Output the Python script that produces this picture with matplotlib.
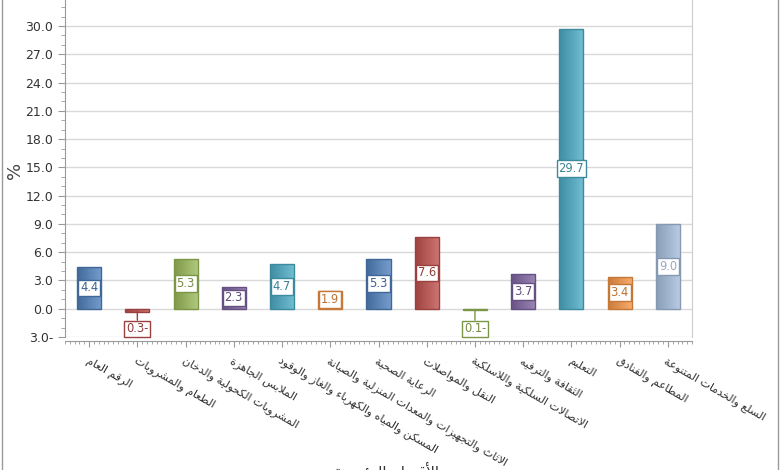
import matplotlib
matplotlib.use("Agg")
import matplotlib.pyplot as plt
import numpy as np
from matplotlib.colors import to_rgb
from matplotlib.lines import Line2D
from matplotlib.ticker import MultipleLocator, FuncFormatter

# --- data ---
categories = [
    "الرقم العام",
    "الطعام والمشروبات",
    "المشروبات الكحولية والدخان",
    "الملابس الجاهزة",
    "المسكن والمياه والكهرباء والغاز والوقود",
    "الاثاث والتجهيزات والمعدات المنزلية والصيانة",
    "الرعاية الصحية",
    "النقل والمواصلات",
    "الاتصالات السلكية واللاسلكية",
    "الثقافة والترفيه",
    "التعليم",
    "المطاعم والفنادق",
    "السلع والخدمات المتنوعة",
]
values = [4.4, -0.3, 5.3, 2.3, 4.7, 1.9, 5.3, 7.6, -0.1, 3.7, 29.7, 3.4, 9.0]
bar_colors = ["#4f81bd", "#c0504d", "#9bbb59", "#8064a2", "#4bacc6", "#f79646",
              "#4f81bd", "#c0504d", "#9bbb59", "#8064a2", "#4bacc6", "#f79646",
              "#a7bfde"]
y_title = "%"
x_title = "الأقسام الرئيسية"

# --- minimal arabic shaping (matplotlib has no bidi / joining support) ---
RIGHT = {'آ': 0xFE81, 'أ': 0xFE83, 'ؤ': 0xFE85, 'إ': 0xFE87, 'ا': 0xFE8D,
         'ة': 0xFE93, 'د': 0xFEA9, 'ذ': 0xFEAB, 'ر': 0xFEAD, 'ز': 0xFEAF,
         'و': 0xFEED, 'ى': 0xFEEF}
DUAL = {'ئ': 0xFE89, 'ب': 0xFE8F, 'ت': 0xFE95, 'ث': 0xFE99, 'ج': 0xFE9D,
        'ح': 0xFEA1, 'خ': 0xFEA5, 'س': 0xFEB1, 'ش': 0xFEB5, 'ص': 0xFEB9,
        'ض': 0xFEBD, 'ط': 0xFEC1, 'ظ': 0xFEC5, 'ع': 0xFEC9, 'غ': 0xFECD,
        'ف': 0xFED1, 'ق': 0xFED5, 'ك': 0xFED9, 'ل': 0xFEDD, 'م': 0xFEE1,
        'ن': 0xFEE5, 'ه': 0xFEE9, 'ي': 0xFEF1}
LAM_ALEF = {'آ': 0xFEF5, 'أ': 0xFEF7, 'إ': 0xFEF9, 'ا': 0xFEFB}


def shape(s):
    toks = []
    i = 0
    while i < len(s):
        c = s[i]
        if c == 'ل' and i + 1 < len(s) and s[i + 1] in LAM_ALEF:
            toks.append(('R', LAM_ALEF[s[i + 1]]))
            i += 2
            continue
        if c in DUAL:
            toks.append(('D', DUAL[c]))
        elif c in RIGHT:
            toks.append(('R', RIGHT[c]))
        elif c == 'ء':
            toks.append(('N', 0xFE80))
        else:
            toks.append(('X', c))
        i += 1
    out = []
    for j, (k, b) in enumerate(toks):
        if k == 'X':
            out.append(b)
            continue
        if k == 'N':
            out.append(chr(b))
            continue
        jp = j > 0 and toks[j - 1][0] == 'D'
        jn = k == 'D' and j + 1 < len(toks) and toks[j + 1][0] in ('D', 'R')
        if k == 'R':
            off = 1 if jp else 0
        else:
            off = 3 if (jp and jn) else 2 if jn else 1 if jp else 0
        out.append(chr(b + off))
    return ''.join(out[::-1])


def shade(c, f):
    r = np.array(to_rgb(c))
    return tuple(r * f) if f < 1 else tuple(r + (1 - r) * (f - 1))


plt.rcParams["font.family"] = ["DejaVu Sans"]

fig = plt.figure(figsize=(7.8, 4.7), dpi=100)
ax = fig.add_axes([65 / 780, (470 - 337) / 470, (692 - 65) / 780, 337 / 470])

x = np.arange(len(values))
w = 0.5
bars = ax.bar(x, values, width=w, facecolor="none", zorder=3, linewidth=1)

grad = np.linspace(0, 1, 64)
for xi, v, c, b in zip(x, values, bar_colors, bars):
    edge = shade(c, 0.8)
    b.set_edgecolor(edge)
    dark = np.array(shade(c, 0.82))
    light = np.array(shade(c, 1.22))
    img = dark[None, None, :] * (1 - grad[None, :, None]) + light[None, None, :] * grad[None, :, None]
    im = ax.imshow(img, extent=(xi - w / 2, xi + w / 2, min(0, v), max(0, v)),
                   aspect="auto", zorder=2, interpolation="bilinear")
    im.set_clip_path(b)

    txt = f"{abs(v):.1f}" + ("-" if v < 0 else "")
    tcol = shade(c, 0.75) if c != "#a7bfde" else "#98a8bf"
    box = dict(boxstyle="square,pad=0.16", facecolor="white", edgecolor=edge, linewidth=1)
    if v >= 0:
        ax.text(xi, v / 2, txt, ha="center", va="center", fontsize=8.3,
                color=tcol, bbox=box, zorder=5)
    else:
        ax.annotate(txt, xy=(xi, v), xytext=(xi, -2.15), ha="center", va="center",
                    fontsize=8.3, color=tcol, bbox=box, zorder=5,
                    arrowprops=dict(arrowstyle="-", color=edge, lw=1,
                                    shrinkA=0, shrinkB=0))

ax.set_xlim(-0.5, len(values) - 0.5)
ax.set_ylim(-3, 32.76)

ax.grid(axis="y", color="#d9d9d9", linewidth=1)
ax.set_axisbelow(True)
ax.spines["top"].set_visible(False)
ax.spines["right"].set_color("#cccccc")
ax.spines["left"].set_color("#999999")
ax.spines["bottom"].set_color("#999999")
ax.spines["bottom"].set_position(("outward", 3))

ax.tick_params(axis="y", which="major", length=5, color="#999999",
               labelsize=9, labelcolor="#333333")
ax.tick_params(axis="y", which="minor", length=3, color="#999999")
ax.tick_params(axis="x", which="major", length=4, color="#999999", pad=6)
ax.tick_params(axis="x", which="minor", length=2, color="#999999")

ax.yaxis.set_major_locator(MultipleLocator(3))
ax.yaxis.set_minor_locator(MultipleLocator(1))
ax.yaxis.set_major_formatter(FuncFormatter(
    lambda v, p: f"{abs(v):.1f}" + ("-" if v < -1e-9 else "")))
ax.set_xticks(x)
ax.xaxis.set_minor_locator(MultipleLocator(0.1))
ax.set_xticklabels([shape(c) for c in categories], fontsize=8, color="#333333")
plt.setp(ax.get_xticklabels(), rotation=-30, ha="left", va="top",
         rotation_mode="anchor")

fig.text(15 / 780, 1 - 170 / 470, y_title, rotation=90, ha="center", va="center",
         fontsize=13, color="#444444")
fig.text(387 / 780, 1 - 462 / 470, shape(x_title), ha="center", va="top",
         fontsize=11, color="#333333")

# frame lines at left and right edges
fig.add_artist(Line2D([2 / 780, 2 / 780], [0, 1], color="#999999", lw=1))
fig.add_artist(Line2D([778 / 780, 778 / 780], [0, 1], color="#999999", lw=1))

fig.savefig("out.png", dpi=100)
